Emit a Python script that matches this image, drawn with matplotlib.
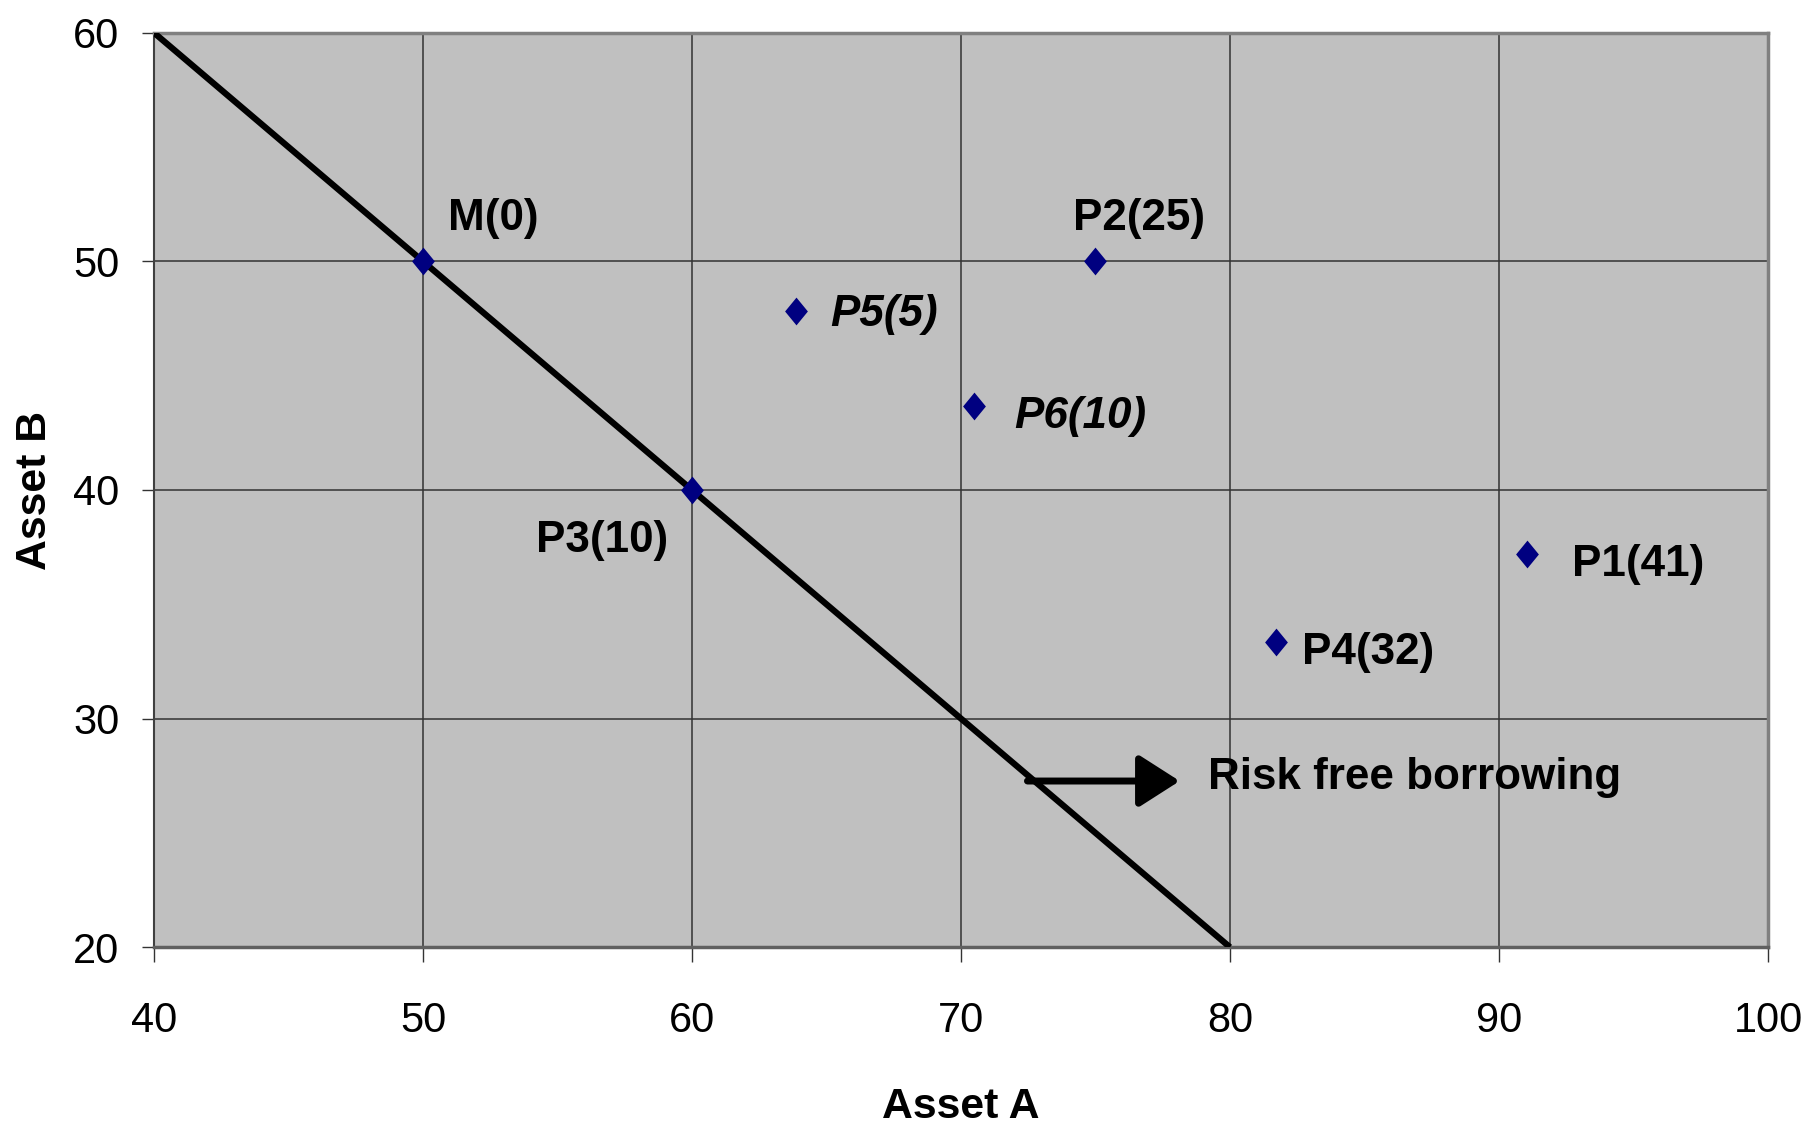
import matplotlib
matplotlib.use("Agg")
import matplotlib.pyplot as plt
from matplotlib import font_manager
from matplotlib.path import Path

# portfolio points (Asset A, Asset B)
names = ["M(0)", "P1(41)", "P2(25)", "P3(10)", "P4(32)", "P5(5)", "P6(10)"]
asset_a = [50, 91.05, 75, 60, 81.7, 63.88, 70.5]
asset_b = [50, 37.22, 50, 40, 33.37, 47.83, 43.66]
italic = [False, False, False, False, False, True, True]

# label anchor (left, baseline)
label_x = [50.92, 92.73, 74.16, 54.19, 82.67, 65.13, 71.99]
label_y = [51.36, 36.23, 51.36, 37.28, 32.41, 47.18, 42.69]

# risk free borrowing line
line_a = [40, 80]
line_b = [60, 20]

arrow_from = (72.47, 27.27)
arrow_to = (78.13, 27.27)
arrow_text = "Risk free borrowing"
arrow_text_pos = (79.2, 26.94)

xticks = [40, 50, 60, 70, 80, 90, 100]
yticks = [20, 30, 40, 50, 60]

# prefer a narrow sans if one is around, else plain Liberation Sans, a bit smaller
installed = {f.name for f in font_manager.fontManager.ttflist}
narrow = [n for n in ['Liberation Sans Narrow', 'Arial Narrow'] if n in installed]
plt.rcParams['font.family'] = narrow + ['Liberation Sans', 'DejaVu Sans']
k = 1.0 if narrow else 0.88

fig = plt.figure(figsize=(18.18, 11.29), dpi=100)
ax = fig.add_axes([0.0847, 0.161, 0.8878, 0.810])
ax.set_facecolor('#C0C0C0')

ax.set_xlim(40, 100)
ax.set_ylim(20, 60)
ax.set_xticks(xticks)
ax.set_yticks(yticks)
ax.grid(True, color='#333333', linewidth=1.1)
ax.set_axisbelow(True)

ax.tick_params(axis='x', direction='out', length=11, width=1, color='#333333',
               pad=28, labelsize=34 * k)
ax.tick_params(axis='y', direction='out', length=9, width=1, color='#333333',
               pad=16, labelsize=34 * k)

ax.spines['top'].set_color('#808080')
ax.spines['right'].set_color('#808080')
ax.spines['top'].set_linewidth(2.5)
ax.spines['right'].set_linewidth(2.5)
ax.spines['left'].set_color('#404040')
ax.spines['left'].set_linewidth(1.5)
ax.spines['bottom'].set_color('#606060')
ax.spines['bottom'].set_linewidth(2.5)

ax.plot(line_a, line_b, color='black', linewidth=4.5, solid_capstyle='butt', zorder=3)

diamond = Path([(0, 1), (0.82, 0), (0, -1), (-0.82, 0), (0, 1)],
               [Path.MOVETO, Path.LINETO, Path.LINETO, Path.LINETO, Path.CLOSEPOLY])
ax.plot(asset_a, asset_b, linestyle='none', marker=diamond, markersize=20,
        color='#000080', markeredgewidth=0, zorder=4)

for name, lx, ly, it in zip(names, label_x, label_y, italic):
    ax.text(lx, ly, name, fontsize=36 * k, fontweight='bold',
            fontstyle='italic' if it else 'normal', ha='left', va='baseline', zorder=5)

ax.annotate('', xy=arrow_to, xytext=arrow_from,
            arrowprops=dict(arrowstyle='-|>,head_length=1.25,head_width=0.8',
                            lw=5, color='black', mutation_scale=20,
                            shrinkA=0, shrinkB=0), zorder=5)
ax.text(arrow_text_pos[0], arrow_text_pos[1], arrow_text, fontsize=36 * k,
        fontweight='bold', ha='left', va='baseline', zorder=5)

ax.set_xlabel('Asset A', fontsize=35 * k, fontweight='bold')
ax.set_ylabel('Asset B', fontsize=35 * k, fontweight='bold')
ax.xaxis.label.set_verticalalignment('center')
ax.yaxis.label.set_verticalalignment('center')
ax.xaxis.set_label_coords(0.5, -0.175)
ax.yaxis.set_label_coords(-0.0737, 0.5)

fig.savefig('out.png', dpi=100)
